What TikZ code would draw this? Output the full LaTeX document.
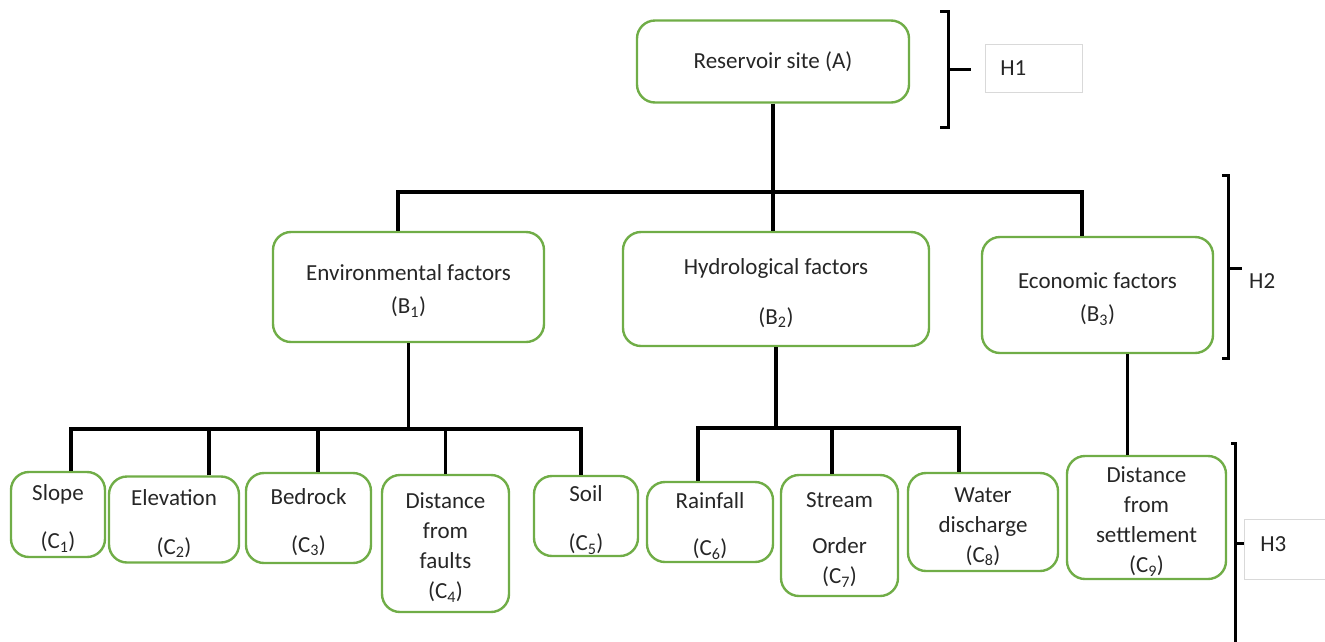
\documentclass[tikz,border=0pt]{standalone}
\usepackage{fontspec}
\setmainfont{Carlito}
\definecolor{boxgreen}{HTML}{70AD47}
\definecolor{txt}{HTML}{262626}
\definecolor{hgray}{HTML}{D9D9D9}
\newcommand\lift{\rule{0pt}{24pt}}
\begin{document}
\begin{tikzpicture}[x=1pt,y=-1pt,every node/.style={font=\fontsize{23}{30}\selectfont,text=txt},
      box/.style={draw=boxgreen,line width=2.4pt,rounded corners=18pt,align=center,inner sep=0pt},
      link/.style={line width=3.4pt},brk/.style={line width=3pt},
      hbox/.style={draw=hgray,line width=0.8pt,anchor=west,align=left,inner xsep=15pt}]
      \useasboundingbox (0,0) rectangle (1325,641);
      \node[box,minimum width=272,minimum height=82](a)at(773,61.5){Reservoir site (A)};
      \node[box,minimum width=271,minimum height=110](b1)at(408.5,287){\lift Environmental factors\\[3pt](B\textsubscript{1})};
      \node[box,minimum width=306,minimum height=114](b2)at(776,289){\lift Hydrological factors\\[20pt](B\textsubscript{2})};
      \node[box,minimum width=231,minimum height=116](b3)at(1097.5,295){\lift Economic factors\\[3pt](B\textsubscript{3})};
      \node[box,minimum width=94,minimum height=85](c1)at(58,514.5){\lift Slope\\[18pt](C\textsubscript{1})};
      \node[box,minimum width=130,minimum height=86](c2)at(174,519.5){\lift Elevation\\[19pt](C\textsubscript{2})};
      \node[box,minimum width=125,minimum height=90](c3)at(308.5,518){\lift Bedrock\\[18pt](C\textsubscript{3})};
      \node[box,minimum width=127,minimum height=137](c4)at(445.5,543.5){\lift Distance\\from\\faults\\(C\textsubscript{4})};
      \node[box,minimum width=104,minimum height=80](c5)at(586,516){\lift Soil\\[19pt](C\textsubscript{5})};
      \node[box,minimum width=126,minimum height=80](c6)at(710,522){\lift Rainfall\\[17pt](C\textsubscript{6})};
      \node[box,minimum width=117,minimum height=121](c7)at(839.5,535.5){\lift Stream\\[16pt]Order\\(C\textsubscript{7})};
      \node[box,minimum width=150,minimum height=98](c8)at(983,522){\lift Water\\discharge\\(C\textsubscript{8})};
      \node[box,minimum width=159,minimum height=123](c9)at(1146.5,517.5){\lift Distance\\from\\settlement\\(C\textsubscript{9})};
      \coordinate(j2)at(775,192);
      \coordinate(k1)at(409,429);
      \coordinate(k2)at(779,428);
      \draw[link](a.south)--(a.south|-b2.north);
      \draw[link]([xshift=-10.5]b1.north)|-(j2)-|([xshift=-15.5]b3.north);
      \draw[link](b1.south)--(b1.south|-k1);
      \draw[link]([xshift=13]c1.north)|-(k1)-|([xshift=-5]c5.north);
      \foreach\n/\dx in{2/35,3/9.5,4/0}
         \draw[link]([xshift=\dx]c\n.north)--([xshift=\dx]c\n.north|-k1);
      \draw[link](b2.south)--(b2.south|-k2);
      \draw[link]([xshift=-12]c6.north)|-(k2)-|([xshift=-24]c8.north);
      \draw[link]([xshift=-7.5]c7.north)--([xshift=-7.5]c7.north|-k2);
      \draw[link]([xshift=30]b3.south)--([xshift=30]b3.south|-c9.north);
      \draw[brk](940,11)--(948,11)--(948,127)--(940,127)(948,69)--(971,69);
      \draw[brk](1222,175)--(1228,175)--(1228,358)--(1222,358)(1228,268)--(1242,268);
      \draw[brk](1231,443)--(1235,443)--(1235,650)(1235,543)--(1245,543);
      \node[hbox,text width=67,minimum height=48](h1)at(985,68){H1};
      \node[anchor=west,inner sep=2pt](h2)at(1247,281){H2};
      \node[hbox,text width=80,minimum height=60,inner xsep=16pt,text depth=10pt](h3)at(1244,549){H3};
    \end{tikzpicture}
\end{document}
